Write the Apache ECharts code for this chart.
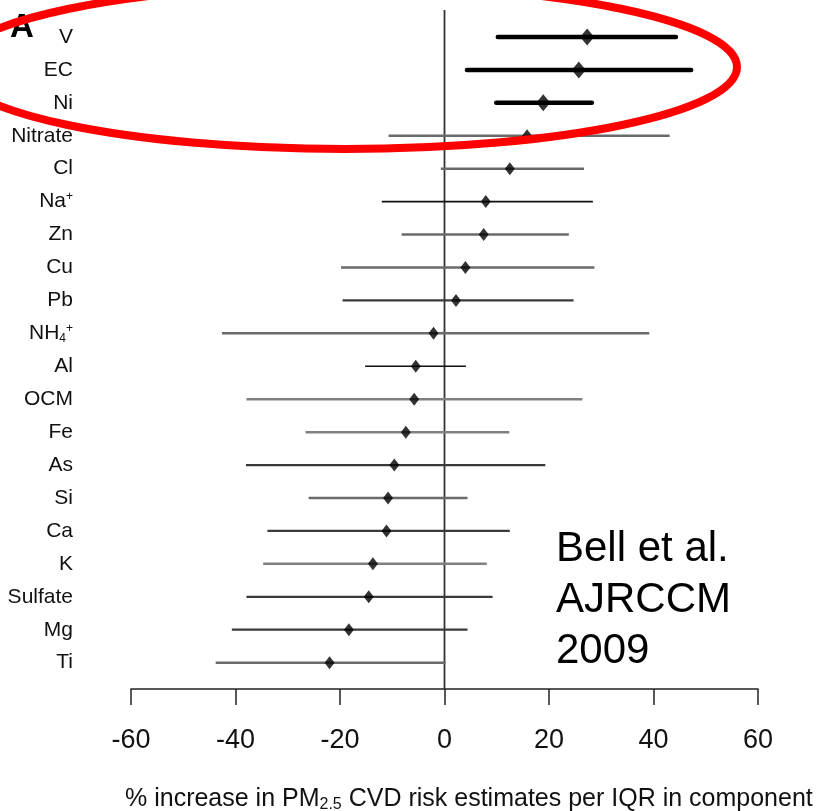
<!DOCTYPE html>
<html>
<head>
<meta charset="utf-8">
<script src="https://cdn.jsdelivr.net/npm/echarts@6/dist/echarts.min.js"></script>
<style>
  html, body { margin: 0; padding: 0; background: #ffffff; }
  #chart { width: 823px; height: 811px; }
</style>
</head>
<body>
<div id="chart"></div>
<script>
// PM2.5 components, top to bottom
const components = ['V', 'EC', 'Ni', 'Nitrate', 'Cl', 'Na+', 'Zn', 'Cu', 'Pb', 'NH4+',
                    'Al', 'OCM', 'Fe', 'As', 'Si', 'Ca', 'K', 'Sulfate', 'Mg', 'Ti'];
// % increase in CVD risk estimate per IQR, with interval bounds
const estimate = [27.3, 25.7, 18.9, 15.8, 12.5, 7.9, 7.5, 4.0, 2.2, -2.1,
                  -5.5, -5.8, -7.4, -9.6, -10.8, -11.1, -13.7, -14.5, -18.3, -22.0];
const lower = [10.2, 4.3, 9.9, -10.7, -0.7, -12.0, -8.2, -19.8, -19.5, -42.6,
               -15.2, -37.9, -26.6, -38.0, -26.0, -33.9, -34.7, -37.9, -40.7, -43.8];
const upper = [44.3, 47.2, 28.2, 43.1, 26.7, 28.4, 23.8, 28.7, 24.7, 39.2,
               4.1, 26.4, 12.4, 19.3, 4.4, 12.5, 8.1, 9.2, 4.4, 0.2];
const xTicks = [-60, -40, -20, 0, 20, 40, 60];
const referenceValue = 0;

// stroke class of each interval line
const rowShade = ['heavy', 'heavy', 'heavy', 'gray', 'gray', 'black', 'gray', 'gray', 'dark', 'gray',
                  'black', 'light', 'light', 'dark', 'gray', 'dark', 'light', 'dark', 'dark', 'gray'];
const shadeStyle = {
  heavy: { color: '#000000', width: 4.5, cap: 'round', symbol: [14, 17] },
  black: { color: '#111111', width: 1.7, cap: 'butt', symbol: [10, 13] },
  dark:  { color: '#3a3a3a', width: 2.2, cap: 'butt', symbol: [10, 13] },
  gray:  { color: '#6a6a6a', width: 2.5, cap: 'butt', symbol: [10, 13] },
  light: { color: '#808080', width: 2.5, cap: 'butt', symbol: [10, 13] }
};

const FONT = '"Liberation Sans", Arial, Helvetica, sans-serif';

function componentLabel(name) {
  if (name === 'Na+') return 'Na{sup|+}';
  if (name === 'NH4+') return 'NH{sub|4}{sup|+}';
  return name;
}

const chart = echarts.init(document.getElementById('chart'), null, { renderer: 'canvas' });

const option = {
  animation: false,
  backgroundColor: '#ffffff',
  grid: [
    { left: 131, width: 627, top: 20.5, height: 658.6 },
    { left: 131, width: 627, top: 10, height: 679 }
  ],
  xAxis: [
    {
      gridIndex: 0,
      type: 'value',
      min: xTicks[0],
      max: xTicks[xTicks.length - 1],
      interval: xTicks[1] - xTicks[0],
      offset: 10,
      splitLine: { show: false },
      axisLine: { show: true, onZero: false, lineStyle: { color: '#222222', width: 1.5 } },
      axisTick: { show: true, inside: false, length: 16, lineStyle: { color: '#222222', width: 1.5 } },
      axisLabel: { margin: 38, fontSize: 27, fontFamily: FONT, color: '#111111' }
    },
    {
      gridIndex: 1,
      type: 'value',
      min: xTicks[0],
      max: xTicks[xTicks.length - 1],
      show: false
    }
  ],
  yAxis: [
    {
      gridIndex: 0,
      type: 'category',
      inverse: true,
      data: components,
      axisLine: { show: false },
      axisTick: { show: false },
      splitLine: { show: false },
      axisLabel: {
        margin: 58,
        fontSize: 21,
        fontFamily: FONT,
        color: '#111111',
        formatter: componentLabel,
        rich: {
          sup: { fontSize: 12, fontFamily: FONT, color: '#111111', verticalAlign: 'top', padding: [0, 0, 10, 0] },
          sub: { fontSize: 12, fontFamily: FONT, color: '#111111', verticalAlign: 'bottom', padding: [10, 0, 0, 0] }
        }
      }
    },
    {
      gridIndex: 1,
      type: 'value',
      min: 0,
      max: 1,
      show: false
    }
  ],
  title: {
    left: 120,
    top: 780,
    text: '% increase in PM{sub|2.5} CVD risk estimates per IQR in component',
    textStyle: {
      fontSize: 25,
      fontWeight: 'normal',
      fontFamily: FONT,
      color: '#111111',
      rich: {
        sub: { fontSize: 16, fontFamily: FONT, color: '#111111', verticalAlign: 'bottom', padding: [12, 0, 0, 0] }
      }
    }
  },
  graphic: [
    {
      type: 'text',
      left: 10,
      top: 11,
      style: { text: 'A', fontSize: 33, fontWeight: 'bold', fontFamily: FONT, fill: '#000000' }
    },
    {
      type: 'text',
      left: 556,
      top: 524,
      style: {
        text: 'Bell et al.\nAJRCCM\n2009',
        fontSize: 42,
        lineHeight: 51,
        fontFamily: FONT,
        fill: '#000000'
      }
    },
    {
      type: 'ellipse',
      z: 100,
      shape: { cx: 345, cy: 67, rx: 392, ry: 82 },
      style: { fill: 'none', stroke: '#ff0000', lineWidth: 8 }
    }
  ],
  series: [
    {
      // vertical reference line at zero
      type: 'line',
      xAxisIndex: 1,
      yAxisIndex: 1,
      data: [[referenceValue, 0], [referenceValue, 1]],
      symbol: 'none',
      silent: true,
      z: 1,
      lineStyle: { color: '#333333', width: 1.8 }
    },
    {
      type: 'custom',
      xAxisIndex: 0,
      yAxisIndex: 0,
      z: 2,
      data: components.map((c, i) => [i, lower[i], upper[i]]),
      encode: { y: 0, x: [1, 2] },
      renderItem: function (params, api) {
        const idx = api.value(0);
        const a = api.coord([api.value(1), idx]);
        const b = api.coord([api.value(2), idx]);
        const st = shadeStyle[rowShade[params.dataIndex]];
        return {
          type: 'line',
          shape: { x1: a[0], y1: a[1], x2: b[0], y2: b[1] },
          style: { stroke: st.color, lineWidth: st.width, lineCap: st.cap }
        };
      }
    },
    {
      type: 'scatter',
      xAxisIndex: 0,
      yAxisIndex: 0,
      z: 3,
      symbol: 'diamond',
      data: components.map((c, i) => ({
        value: [estimate[i], c],
        symbolSize: shadeStyle[rowShade[i]].symbol
      })),
      itemStyle: { color: '#000000' }
    }
  ]
};

chart.setOption(option);
</script>
</body>
</html>
